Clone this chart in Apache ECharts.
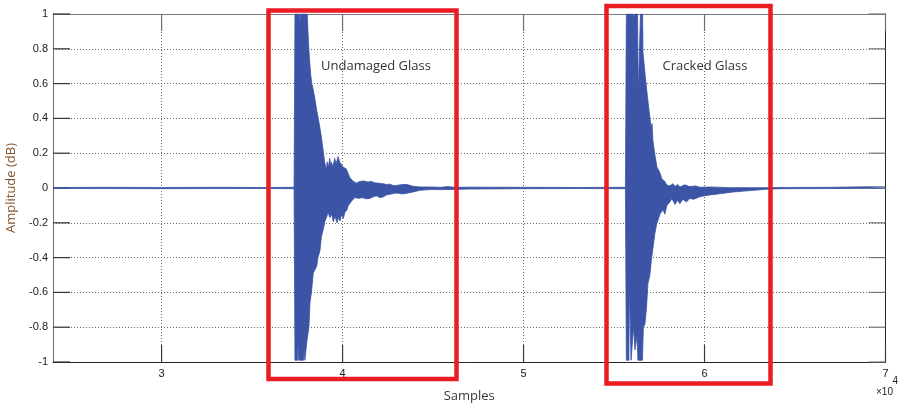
<!DOCTYPE html>
<html>
<head>
<meta charset="utf-8">
<script src="https://cdn.jsdelivr.net/npm/echarts@6/dist/echarts.min.js"></script>
<style>
  html, body { margin: 0; padding: 0; background: #ffffff; }
  #chart { width: 899px; height: 405px; }
</style>
</head>
<body>
<div id="chart"></div>
<script>
// Trace of the recorded signal, stored as its upper and lower edge:
// [sample index, amplitude] pairs.
const upperEnvelope = [
  [24000, 0.003], [27000, 0.004], [30000, 0.003], [33000, 0.004], [36000, 0.003], [37320, 0.004],
  // first impact
  [37370, 1.0], [37610, 1.0], [37630, 0.89], [37660, 1.0], [38050, 1.0], [38090, 0.9],
  [38130, 0.81], [38180, 0.73], [38240, 0.65], [38300, 0.6], [38370, 0.57], [38460, 0.52],
  [38550, 0.46], [38600, 0.43], [38640, 0.41], [38740, 0.35], [38820, 0.30], [38920, 0.22],
  [39010, 0.15], [39100, 0.10], [39150, 0.15], [39220, 0.12], [39290, 0.17], [39340, 0.13],
  [39380, 0.15], [39470, 0.12], [39560, 0.17], [39650, 0.14], [39750, 0.18], [39840, 0.15],
  [39930, 0.16], [40030, 0.12], [40120, 0.13], [40200, 0.11], [40300, 0.085], [40400, 0.06],
  [40480, 0.057], [40570, 0.04], [40670, 0.036], [40760, 0.028], [40850, 0.027], [40940, 0.038],
  [41030, 0.032], [41200, 0.04], [41400, 0.034], [41580, 0.038], [41770, 0.03], [42000, 0.028],
  [42230, 0.025], [42420, 0.02], [42620, 0.022], [42800, 0.014], [43010, 0.015], [43300, 0.02],
  [43560, 0.02], [43890, 0.01], [44280, 0.006], [44830, 0.006], [45500, 0.004], [45770, 0.008],
  [46200, 0.004], [47040, 0.005], [50000, 0.004], [53000, 0.003], [55630, 0.004],
  // second impact
  [55680, 1.0], [56060, 1.0], [56080, 0.96], [56120, 1.0], [56300, 1.0], [56340, 0.54],
  [56430, 0.54], [56460, 1.0], [56580, 1.0], [56600, 0.78], [56710, 0.66], [56820, 0.55],
  [56930, 0.45], [57040, 0.35], [57100, 0.37], [57150, 0.27], [57260, 0.19], [57370, 0.12],
  [57420, 0.13], [57480, 0.10], [57560, 0.08], [57650, 0.05], [57720, 0.055], [57790, 0.04],
  [57920, 0.016], [58090, 0.012], [58250, 0.025], [58370, 0.008], [58500, 0.02], [58640, 0.006],
  [58900, 0.018], [59190, 0.008], [59500, 0.012], [59750, 0.004], [60300, 0.006], [61400, 0.002],
  [63390, 0.002], [64170, 0.003], [67000, 0.004], [69000, 0.007], [70000, 0.007]
];

const lowerEnvelope = [
  [24000, -0.003], [27000, -0.003], [30000, -0.004], [33000, -0.003], [36000, -0.003], [37320, -0.004],
  // first impact
  [37370, -0.99], [37510, -0.99], [37540, -0.89], [37580, -0.99], [37840, -0.99], [37870, -0.93],
  [37920, -0.99], [37980, -0.93], [38030, -0.88], [38090, -0.875], [38140, -0.80], [38200, -0.66],
  [38280, -0.60], [38380, -0.49], [38470, -0.50], [38570, -0.45], [38640, -0.40], [38750, -0.36],
  [38830, -0.28], [38930, -0.24], [39030, -0.19], [39120, -0.167], [39200, -0.14], [39300, -0.17],
  [39400, -0.15], [39490, -0.195], [39580, -0.16], [39690, -0.20], [39770, -0.17], [39860, -0.19],
  [39950, -0.15], [40040, -0.175], [40130, -0.14], [40230, -0.128], [40320, -0.10], [40410, -0.09],
  [40500, -0.075], [40580, -0.07], [40680, -0.055], [40780, -0.05], [40920, -0.06], [41070, -0.055],
  [41300, -0.062], [41510, -0.06], [41700, -0.05], [41880, -0.045], [42050, -0.055], [42230, -0.052],
  [42420, -0.04], [42620, -0.036], [42800, -0.032], [43010, -0.029], [43300, -0.034], [43560, -0.03],
  [43890, -0.023], [44280, -0.013], [44830, -0.009], [45770, -0.009], [47040, -0.006],
  [50000, -0.004], [53000, -0.003], [55630, -0.004],
  // second impact
  [55680, -0.99], [55820, -0.99], [55850, -0.55], [55910, -0.55], [55940, -0.99], [56050, -0.99],
  [56080, -0.80], [56160, -0.93], [56270, -0.85], [56320, -0.99], [56570, -0.99], [56620, -0.80],
  [56710, -0.78], [56800, -0.68], [56870, -0.55], [56980, -0.50], [57080, -0.40], [57170, -0.33],
  [57260, -0.26], [57350, -0.21], [57430, -0.20], [57540, -0.15], [57700, -0.125], [57810, -0.15],
  [57920, -0.10], [58090, -0.08], [58200, -0.06], [58370, -0.095], [58500, -0.07], [58640, -0.09],
  [58800, -0.065], [59000, -0.08], [59190, -0.06], [59400, -0.065], [59750, -0.05], [60000, -0.045],
  [60300, -0.04], [60850, -0.033], [61570, -0.023], [62510, -0.015], [63450, -0.007], [64170, -0.004],
  [67000, -0.003], [69000, -0.002], [70000, -0.002]
];

// Axis ticks (x in samples, labelled in units of 10^4)
const xTickValues = [30000, 40000, 50000, 60000, 70000];
const yTickValues = [-1, -0.8, -0.6, -0.4, -0.2, 0, 0.2, 0.4, 0.6, 0.8, 1];
const xRange = [24000, 70000];
const yRange = [-1, 1];

const annotationLabels = ['Undamaged Glass', 'Cracked Glass'];

const traceColor = '#3b54a5';
const boxRed = '#ec1c24';
const tickFont = { fontFamily: 'Liberation Sans', fontSize: 11, color: '#1a1a1a' };
const TICK_LEN = 17;

const chart = echarts.init(document.getElementById('chart'), null, { renderer: 'canvas' });

const gridLine = { show: true, lineStyle: { color: '#6a6a6a', type: [1, 2], width: 1 } };

function xLabel(v) {
  return xTickValues.indexOf(v) >= 0 ? String(v / 10000) : '';
}

// Red frames, notes and the exponent of the sample axis
const annotations = [
  {
    type: 'rect', z: 100, silent: true,
    shape: { x: 268.5, y: 10.5, width: 188, height: 368.5 },
    style: { fill: null, stroke: boxRed, lineWidth: 4.5 }
  },
  {
    type: 'rect', z: 100, silent: true,
    shape: { x: 606.5, y: 6, width: 164, height: 377.5 },
    style: { fill: null, stroke: boxRed, lineWidth: 4.5 }
  },
  {
    type: 'text', z: 100, silent: true, x: 376, y: 66,
    style: {
      text: annotationLabels[0], fill: '#333333', align: 'center', verticalAlign: 'middle',
      font: '13px "Open Sans"'
    }
  },
  {
    type: 'text', z: 100, silent: true, x: 705, y: 66,
    style: {
      text: annotationLabels[1], fill: '#333333', align: 'center', verticalAlign: 'middle',
      font: '13px "Open Sans"'
    }
  },
  {
    type: 'text', z: 100, silent: true, x: 876, y: 387,
    style: { text: '×10', fill: '#1a1a1a', font: '10px "Liberation Sans"' }
  },
  {
    type: 'text', z: 100, silent: true, x: 892.5, y: 376,
    style: { text: '4', fill: '#1a1a1a', font: '10px "Liberation Sans"' }
  }
];

const option = {
  animation: false,
  backgroundColor: '#ffffff',
  grid: { left: 53, right: 13.5, top: 14, bottom: 43, containLabel: false, outerBoundsMode: 'none' },
  xAxis: [
    {
      type: 'value', position: 'bottom', min: xRange[0], max: xRange[1],
      axisLine: { show: true, onZero: false, lineStyle: { color: '#262626', width: 1 } },
      axisTick: { show: false },
      axisLabel: Object.assign({ margin: 6, formatter: xLabel }, tickFont),
      splitLine: gridLine,
      name: 'Samples', nameLocation: 'middle', nameGap: 28,
      nameTextStyle: { fontFamily: 'Open Sans', fontSize: 13, color: '#3a3a3a' }
    },
    {
      type: 'value', position: 'top', min: xRange[0], max: xRange[1],
      axisLine: { show: true, onZero: false, lineStyle: { color: '#7a7a7a', width: 1 } },
      axisTick: { show: false },
      axisLabel: { show: false },
      splitLine: { show: false }
    }
  ],
  yAxis: [
    {
      type: 'value', position: 'left', min: yRange[0], max: yRange[1], interval: 0.2,
      axisLine: { show: true, onZero: false, lineStyle: { color: '#6e6e6e', width: 1 } },
      axisTick: { show: false },
      axisLabel: Object.assign({ margin: 5 }, tickFont),
      splitLine: gridLine,
      name: 'Amplitude (dB)', nameLocation: 'middle', nameGap: 30,
      nameTextStyle: { fontFamily: 'Open Sans', fontSize: 13, color: '#86532a' }
    },
    {
      type: 'value', position: 'right', min: yRange[0], max: yRange[1], interval: 0.2,
      axisLine: { show: true, onZero: false, lineStyle: { color: '#262626', width: 1 } },
      axisTick: { show: false },
      axisLabel: { show: false },
      splitLine: { show: false }
    }
  ],
  series: [
    {
      type: 'line', name: 'upper', data: upperEnvelope, xAxisIndex: 0, yAxisIndex: 0,
      showSymbol: false, symbol: 'none', z: 3,
      lineStyle: { color: traceColor, width: 0.8 },
      areaStyle: { color: traceColor, opacity: 1 }
    },
    {
      type: 'line', name: 'lower', data: lowerEnvelope, xAxisIndex: 0, yAxisIndex: 0,
      showSymbol: false, symbol: 'none', z: 3,
      lineStyle: { color: traceColor, width: 0.8 },
      areaStyle: { color: traceColor, opacity: 1 }
    }
  ],
  graphic: annotations
};

chart.setOption(option);

// Inward tick marks on all four sides of the box, placed through the axes' own scales
function tickLine(x1, y1, x2, y2, color) {
  return {
    type: 'line', z: 1, silent: true,
    shape: { x1: x1, y1: y1, x2: x2, y2: y2 },
    style: { stroke: color, lineWidth: 1.2 }
  };
}
const xLeft = chart.convertToPixel({ xAxisIndex: 0 }, xRange[0]);
const xRight = chart.convertToPixel({ xAxisIndex: 0 }, xRange[1]);
const yBottom = chart.convertToPixel({ yAxisIndex: 0 }, yRange[0]);
const yTop = chart.convertToPixel({ yAxisIndex: 0 }, yRange[1]);
const tickMarks = [];
xTickValues.forEach(function (v) {
  const x = chart.convertToPixel({ xAxisIndex: 0 }, v);
  tickMarks.push(tickLine(x, yBottom, x, yBottom - TICK_LEN, '#3a3a3a'));
  tickMarks.push(tickLine(x, yTop, x, yTop + TICK_LEN, '#6e6e6e'));
});
yTickValues.forEach(function (v) {
  const y = chart.convertToPixel({ yAxisIndex: 0 }, v);
  tickMarks.push(tickLine(xLeft, y, xLeft + TICK_LEN, y, '#333333'));
  tickMarks.push(tickLine(xRight, y, xRight - TICK_LEN, y, '#777777'));
});
chart.setOption({ graphic: annotations.concat(tickMarks) });
</script>
</body>
</html>
